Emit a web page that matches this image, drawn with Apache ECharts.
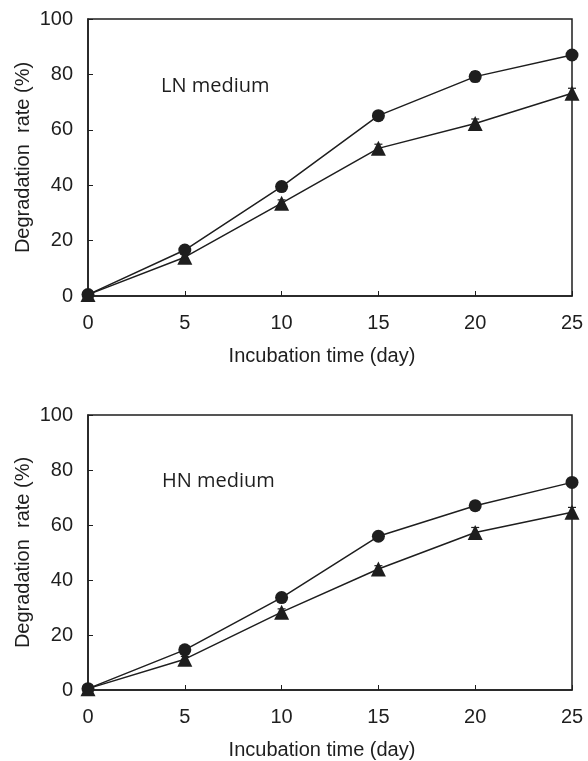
<!DOCTYPE html>
<html>
<head>
<meta charset="utf-8">
<script src="https://cdn.jsdelivr.net/npm/echarts@6/dist/echarts.min.js"></script>
<style>
  html, body { margin: 0; padding: 0; background: #fff; }
  #chart { width: 588px; height: 761px; }
</style>
</head>
<body>
<div id="chart"></div>
<script>
// incubation days
const days = [0, 5, 10, 15, 20, 25]
const yTicks = [0, 20, 40, 60, 80, 100]

// LN medium (top panel)
const lnCircle = [0.5, 16.6, 39.5, 65.1, 79.2, 87.0]
const lnCircleErr = [0.5, 1.2, 1.0, 0.8, 1.8, 1.0]
const lnTriangle = [0.5, 14.0, 33.5, 53.3, 62.3, 73.2]
const lnTriangleErr = [0.5, 1.0, 1.2, 1.5, 1.6, 1.8]

// HN medium (bottom panel)
const hnCircle = [0.5, 14.6, 33.6, 55.9, 67.0, 75.5]
const hnCircleErr = [0.5, 1.0, 1.0, 0.8, 1.6, 1.0]
const hnTriangle = [0.5, 11.2, 28.3, 44.0, 57.3, 64.6]
const hnTriangleErr = [0.5, 1.0, 1.2, 1.2, 1.8, 1.8]

const ink = '#1e1e1e'
const fontFamily = 'Liberation Sans, Arial, sans-serif'

function pairs(ys) {
  return days.map((d, i) => [d, ys[i]])
}
function errData(ys, es) {
  return days.map((d, i) => [d, ys[i] - es[i], ys[i] + es[i]])
}

function errorBars(name, idx, ys, es) {
  return {
    name: name,
    type: 'custom',
    xAxisIndex: idx,
    yAxisIndex: idx,
    z: 1,
    silent: true,
    data: errData(ys, es),
    renderItem: function (params, api) {
      const x = api.value(0)
      const lo = api.coord([x, api.value(1)])
      const hi = api.coord([x, api.value(2)])
      const w = 4
      const style = { stroke: ink, lineWidth: 1.2 }
      return {
        type: 'group',
        children: [
          { type: 'line', shape: { x1: lo[0], y1: lo[1], x2: hi[0], y2: hi[1] }, style: style },
          { type: 'line', shape: { x1: hi[0] - w, y1: hi[1], x2: hi[0] + w, y2: hi[1] }, style: style },
          { type: 'line', shape: { x1: lo[0] - w, y1: lo[1], x2: lo[0] + w, y2: lo[1] }, style: style }
        ]
      }
    }
  }
}

function lineSeries(name, idx, ys, symbol, size) {
  return {
    name: name,
    type: 'line',
    xAxisIndex: idx,
    yAxisIndex: idx,
    z: 2,
    data: pairs(ys),
    symbol: symbol,
    symbolSize: size,
    showAllSymbol: true,
    lineStyle: { color: ink, width: 1.5 },
    itemStyle: { color: ink, borderWidth: 0 }
  }
}

function xAxis(idx) {
  return {
    type: 'value',
    gridIndex: idx,
    min: 0,
    max: 25,
    interval: 5,
    name: 'Incubation time (day)',
    nameLocation: 'middle',
    nameGap: 50,
    nameMoveOverlap: false,
    nameTextStyle: { color: ink, fontSize: 20, fontFamily: fontFamily, padding: [0, 16, 0, 0] },
    axisLine: { lineStyle: { color: ink, width: 1.5 } },
    axisTick: { inside: true, length: 5, lineStyle: { color: ink } },
    axisLabel: { color: ink, fontSize: 20, fontFamily: fontFamily, margin: 17 },
    splitLine: { show: false }
  }
}

function yAxis(idx) {
  return {
    type: 'value',
    gridIndex: idx,
    min: 0,
    max: 100,
    interval: 20,
    name: 'Degradation  rate (%)',
    nameLocation: 'middle',
    nameGap: 55,
    nameMoveOverlap: false,
    nameTextStyle: { color: ink, fontSize: 20, fontFamily: fontFamily },
    axisLine: { lineStyle: { color: ink, width: 1.5 } },
    axisTick: { inside: true, length: 5, lineStyle: { color: ink } },
    axisLabel: {
      color: ink, fontSize: 20, fontFamily: fontFamily, margin: 15,
      formatter: v => (yTicks.indexOf(v) >= 0 ? String(v) : '')
    },
    splitLine: { show: false }
  }
}

const chart = echarts.init(document.getElementById('chart'), null, { renderer: 'canvas' })
chart.setOption({
  animation: false,
  backgroundColor: '#fff',
  title: [
    { text: 'LN medium', left: 156, top: 71, textStyle: { color: ink, fontSize: 20, fontWeight: 'normal', fontFamily: 'Open Sans, sans-serif' } },
    { text: 'HN medium', left: 157, top: 466, textStyle: { color: ink, fontSize: 20, fontWeight: 'normal', fontFamily: 'Open Sans, sans-serif' } }
  ],
  grid: [
    { left: 88, right: 16, top: 19, height: 277, show: true, borderColor: ink, borderWidth: 1.5 },
    { left: 88, right: 16, top: 415, height: 276, show: true, borderColor: ink, borderWidth: 1.5 }
  ],
  xAxis: [xAxis(0), xAxis(1)],
  yAxis: [yAxis(0), yAxis(1)],
  series: [
    errorBars('LN circle err', 0, lnCircle, lnCircleErr),
    errorBars('LN triangle err', 0, lnTriangle, lnTriangleErr),
    lineSeries('LN circle', 0, lnCircle, 'circle', 13),
    lineSeries('LN triangle', 0, lnTriangle, 'triangle', 15),
    errorBars('HN circle err', 1, hnCircle, hnCircleErr),
    errorBars('HN triangle err', 1, hnTriangle, hnTriangleErr),
    lineSeries('HN circle', 1, hnCircle, 'circle', 13),
    lineSeries('HN triangle', 1, hnTriangle, 'triangle', 15)
  ]
})
</script>
</body>
</html>
